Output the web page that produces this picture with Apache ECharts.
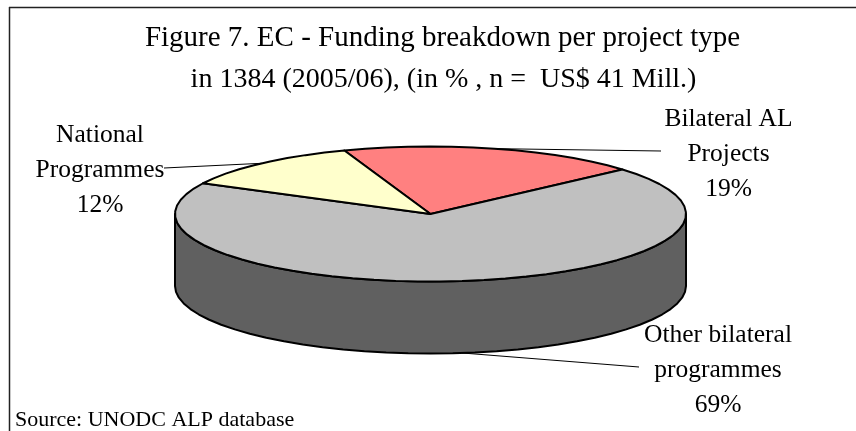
<!DOCTYPE html>
<html>
<head>
<meta charset="utf-8">
<style>html,body{margin:0;padding:0;background:#fff}#main{width:856px;height:431px}</style>
<script src="https://cdn.jsdelivr.net/npm/echarts@6/dist/echarts.min.js"></script>
</head>
<body>
<div id="main"></div>
<script>
var names=['Bilateral AL\nProjects','Other bilateral\nprogrammes','National\nProgrammes']
var values=[19,69,12]
var colors=['#ff8080','#c0c0c0','#ffffcc']

// pie geometry, the lib has no tilted pie so the ellipse is worked out here
var cx=430.5,cy=214,rx=255.5,ry=67.5,depth=72
var startAngle=-19.7
var labelPos=[[728.5,154],[718,370.5],[100,170.5]]
var lineEnd=[[661,151],[639,367],[164,168]]
var font='"Liberation Serif","Times New Roman",serif'
var total=values.reduce(function(a,b){return a+b},0)

function pt(deg,dy){
    var t=deg*Math.PI/180
    return [cx+rx*Math.sin(t),cy-ry*Math.cos(t)+(dy||0)]
}
function arc(a,b,dy){
    var out=[],n=Math.max(1,Math.ceil((b-a)/5))
    for(var i=0;i<=n;i++)out.push(pt(a+(b-a)*i/n,dy))
    return out
}

function renderSlice(params,api){
    var i=params.dataIndex
    var before=0
    for(var k=0;k<i;k++)before+=values[k]
    var a=startAngle+before/total*360
    var b=a+api.value(0)/total*360
    var kids=[]
    var mid=(a+b)/2
    // the slice that faces the viewer anchors its leader on the lower rim
    var front=mid>90&&mid<270
    var from=pt(mid,front?depth:0)
    kids.push({type:'polyline',shape:{points:[from,lineEnd[i]]},style:{stroke:'#000',lineWidth:1,fill:null}})
    // outer wall, only the part between 90 and 270 degrees can be seen
    var wa=Math.max(a,90),wb=Math.min(b,270)
    if(wb>wa){
        var wall=arc(wa,wb,0).concat(arc(wa,wb,depth).reverse())
        kids.push({type:'polygon',shape:{points:wall},style:{fill:'#606060',stroke:'#000',lineWidth:2,lineJoin:'round'}})
    }
    kids.push({type:'polygon',shape:{points:[[cx,cy]].concat(arc(a,b,0))},style:{fill:colors[i],stroke:'#000',lineWidth:2,lineJoin:'round'}})
    kids.push({type:'text',x:labelPos[i][0],y:labelPos[i][1],style:{
        text:names[i]+'\n'+api.value(0)+'%',
        align:'center',verticalAlign:'middle',
        font:'25.5px '+font,lineHeight:35,fill:'#000'
    }})
    return {type:'group',children:kids}
}

var myChart=echarts.init(document.getElementById('main'),null,{renderer:'canvas'})
var option={
    backgroundColor:'#fff',
    animation:false,
    title:[{
        text:'Figure 7. EC - Funding breakdown per project type',
        left:437.5,top:13,
        textAlign:'center',
        textStyle:{fontFamily:font,fontSize:29,fontWeight:'normal',color:'#000',lineHeight:41}
    },{
        text:'in 1384 (2005/06), (in % , n =  US$ 41 Mill.)',
        left:438.5,top:54,
        textAlign:'center',
        textStyle:{fontFamily:font,fontSize:28,fontWeight:'normal',color:'#000',lineHeight:41}
    }],
    graphic:[
        {type:'line',shape:{x1:9,y1:7.5,x2:856,y2:7.5},style:{stroke:'#222',lineWidth:1.5}},
        {type:'line',shape:{x1:9.5,y1:7,x2:9.5,y2:431},style:{stroke:'#222',lineWidth:1.5}},
        {type:'text',x:15,y:420,style:{text:'Source: UNODC ALP database',font:'22px '+font,fill:'#000',verticalAlign:'middle'}}
    ],
    series:[{
        type:'custom',
        coordinateSystem:'none',
        silent:true,
        data:values.map(function(v,i){return {name:names[i],value:[v]}}),
        renderItem:renderSlice
    }]
}
myChart.setOption(option)
</script>
</body>
</html>
